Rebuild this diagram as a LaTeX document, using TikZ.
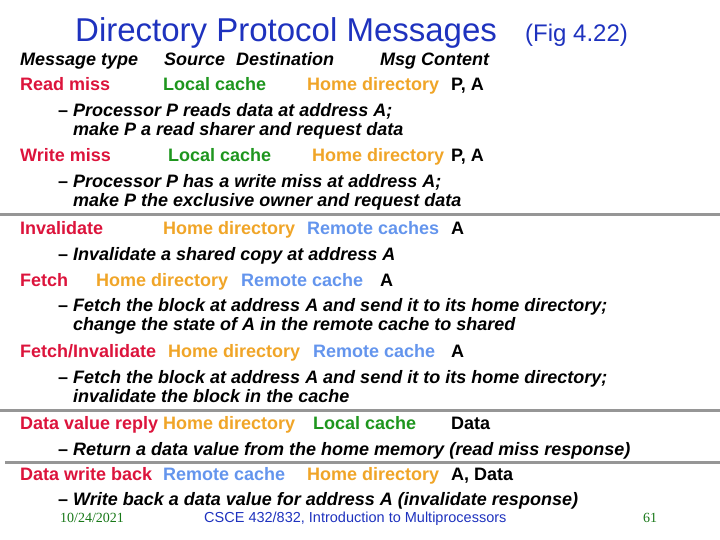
\documentclass[tikz,border=0pt]{standalone}
\usepackage{fontspec}
\setmainfont{Liberation Sans}
\newfontfamily\serfont{Liberation Serif}
\definecolor{cred}{RGB}{220,20,60}
\definecolor{cgreen}{RGB}{30,150,30}
\definecolor{corange}{RGB}{240,165,40}
\definecolor{cblue}{RGB}{100,149,237}
\definecolor{ctitle}{RGB}{30,50,190}
\definecolor{cline}{RGB}{150,150,150}
\begin{document}
\begin{tikzpicture}[x=1pt,y=-1pt,
  t/.style={anchor=base west,inner sep=0pt,font=\fontsize{18}{20}\selectfont\bfseries},
  ti/.style={t,font=\fontsize{18}{20}\selectfont\bfseries\itshape},
  rd/.style={t,text=cred}, gr/.style={t,text=cgreen}, og/.style={t,text=corange}, bl/.style={t,text=cblue},
  sep/.style={cline,line width=3pt}]
\useasboundingbox (0,0) rectangle (720,540);
\node[anchor=base west,inner sep=0pt,text=ctitle,font=\fontsize{33}{35}\selectfont] (title) at (75,42) {Directory Protocol Messages};
\node[anchor=base west,inner sep=0pt,text=ctitle,font=\fontsize{24}{26}\selectfont] (fig) at (525,42) {(Fig 4.22)};
\node[ti] (h1) at (20,66) {Message type};
\node[ti] (h2) at (164,66) {Source};
\node[ti] (h3) at (236,66) {Destination};
\node[ti] (h4) at (380,66) {Msg Content};
% Read miss
\node[rd] (r1) at (20,91) {Read miss};
\node[gr] (r1s) at (163,91) {Local cache};
\node[og] (r1d) at (307,91) {Home directory};
\node[t] (r1c) at (451,91) {P, A};
\node[t] (r1x) at (58,117) {–};
\node[ti] (r1a) at (73,117) {Processor P reads data at address A;};
\node[ti] (r1b) at (73,136) {make P a read sharer and request data};
% Write miss
\node[rd] (r2) at (20,162) {Write miss};
\node[gr] (r2s) at (168,162) {Local cache};
\node[og] (r2d) at (312,162) {Home directory};
\node[t] (r2c) at (451,162) {P, A};
\node[t] (r2x) at (58,188) {–};
\node[ti] (r2a) at (73,188) {Processor P has a write miss at address A;};
\node[ti] (r2b) at (73,207) {make P the exclusive owner and request data};
\coordinate (l1a) at (0,215); \coordinate (l1b) at (720,215);
\draw[sep] (l1a) -- (l1b);
% Invalidate
\node[rd] (r3) at (20,234) {Invalidate};
\node[og] (r3s) at (163,234) {Home directory};
\node[bl] (r3d) at (307,234) {Remote caches};
\node[t] (r3c) at (451,234) {A};
\node[t] (r3x) at (58,260) {–};
\node[ti] (r3a) at (73,260) {Invalidate a shared copy at address A};
% Fetch
\node[rd] (r4) at (20,286) {Fetch};
\node[og] (r4s) at (96,286) {Home directory};
\node[bl] (r4d) at (241,286) {Remote cache};
\node[t] (r4c) at (380,286) {A};
\node[t] (r4x) at (58,311) {–};
\node[ti] (r4a) at (73,311) {Fetch the block at address A and send it to its home directory;};
\node[ti] (r4b) at (73,330) {change the state of A in the remote cache to shared};
% Fetch/Invalidate
\node[rd] (r5) at (20,357) {Fetch/Invalidate};
\node[og] (r5s) at (168,357) {Home directory};
\node[bl] (r5d) at (313,357) {Remote cache};
\node[t] (r5c) at (451,357) {A};
\node[t] (r5x) at (58,383) {–};
\node[ti] (r5a) at (73,383) {Fetch the block at address A and send it to its home directory;};
\node[ti] (r5b) at (73,402) {invalidate the block in the cache};
\coordinate (l2a) at (0,410); \coordinate (l2b) at (720,410);
\draw[sep] (l2a) -- (l2b);
% Data value reply
\node[rd] (r6) at (20,429) {Data value reply};
\node[og] (r6s) at (163,429) {Home directory};
\node[gr] (r6d) at (313,429) {Local cache};
\node[t] (r6c) at (451,429) {Data};
\node[t] (r6x) at (58,455) {–};
\node[ti] (r6a) at (73,455) {Return a data value from the home memory (read miss response)};
\coordinate (l3a) at (5,462); \coordinate (l3b) at (720,462);
\draw[sep] (l3a) -- (l3b);
% Data write back
\node[rd] (r7) at (20,480) {Data write back};
\node[bl] (r7s) at (163,480) {Remote cache};
\node[og] (r7d) at (307,480) {Home directory};
\node[t] (r7c) at (451,480) {A, Data};
\node[t] (r7x) at (58,505) {–};
\node[ti] (r7a) at (73,505) {Write back a data value for address A (invalidate response)};
% footer
\node[anchor=base west,inner sep=0pt,text=cgreen!80!black,font=\serfont\fontsize{14}{15}\selectfont] (date) at (60,522) {10/24/2021};
\node[anchor=base west,inner sep=0pt,text=ctitle,font=\fontsize{14.5}{15}\selectfont] (foot) at (204,522) {CSCE 432/832, Introduction to Multiprocessors};
\node[anchor=base west,inner sep=0pt,text=cgreen!80!black,font=\serfont\fontsize{14}{15}\selectfont] (pg) at (643,522) {61};
\end{tikzpicture}
\end{document}
